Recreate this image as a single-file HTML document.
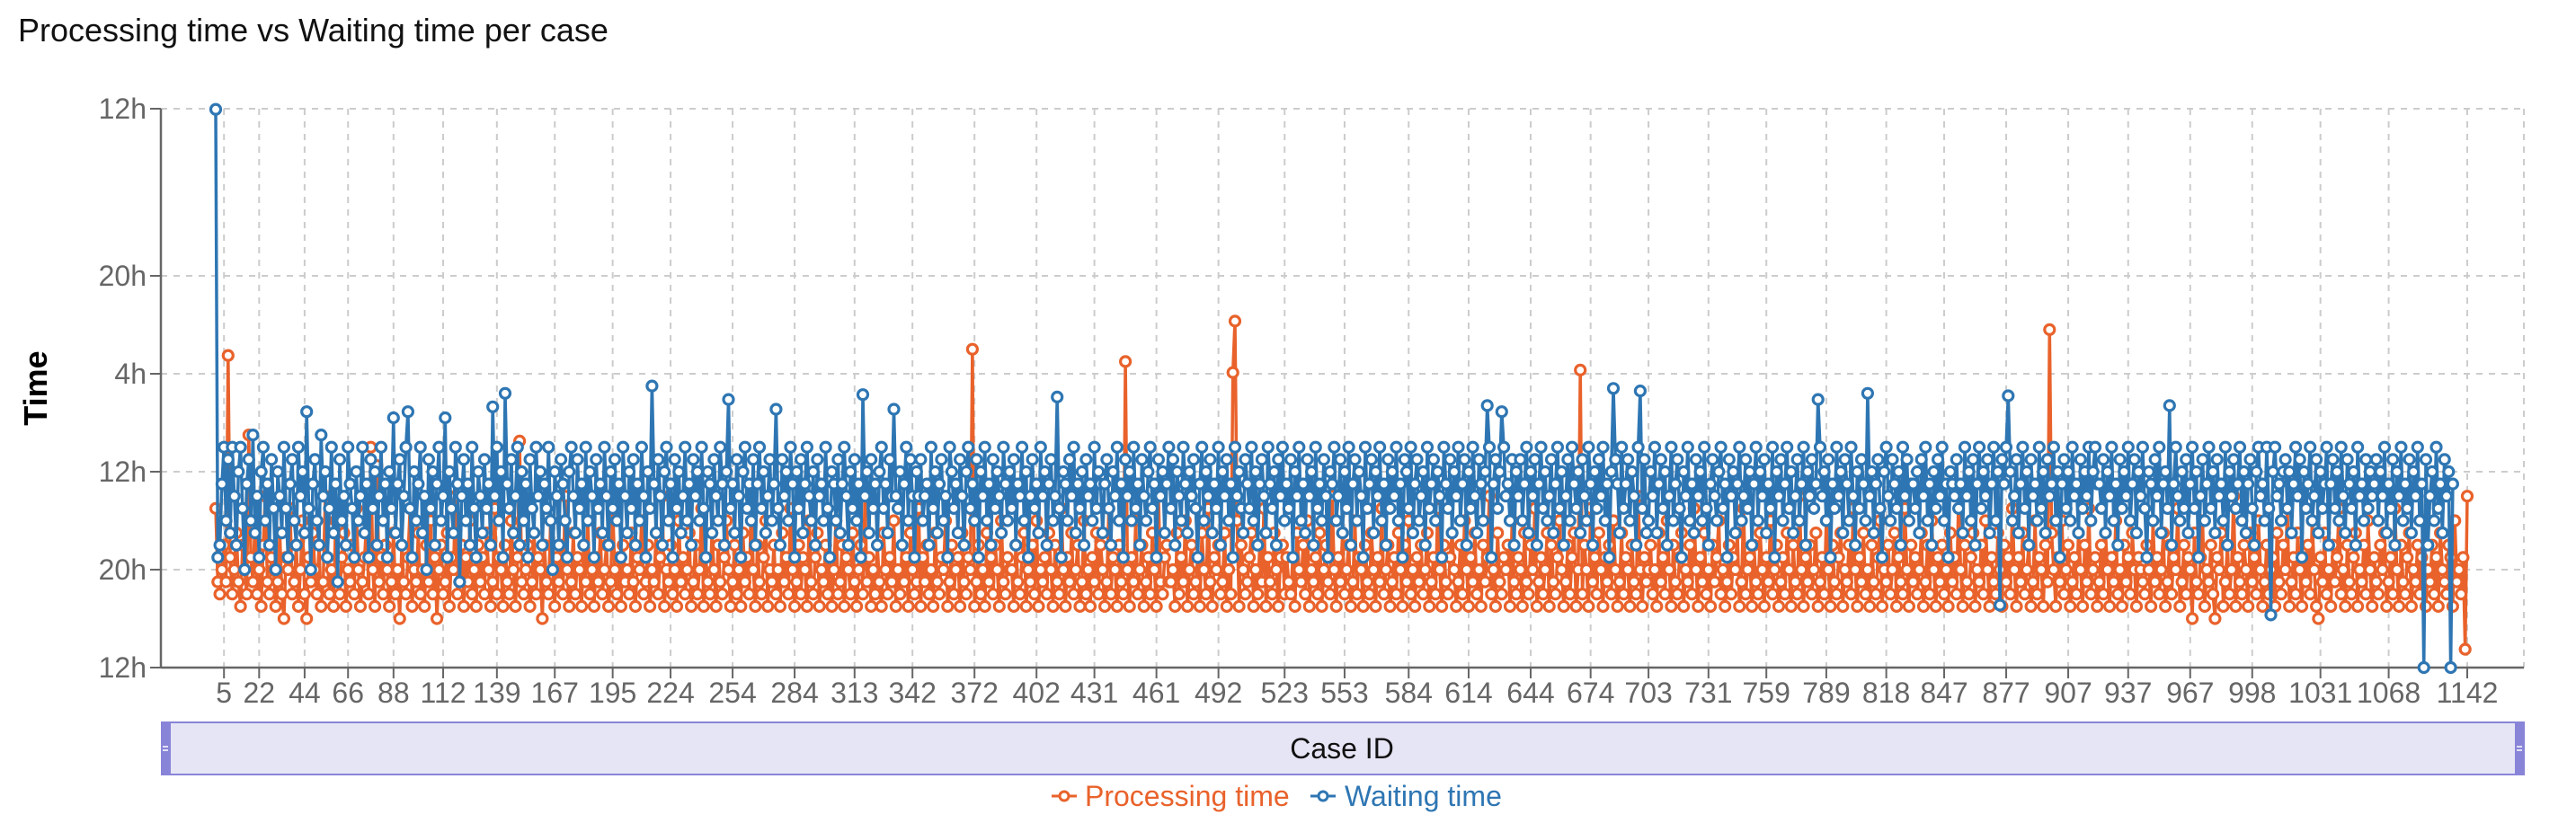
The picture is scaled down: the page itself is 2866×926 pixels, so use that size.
<!DOCTYPE html>
<html><head><meta charset="utf-8"><style>
html,body{margin:0;padding:0;background:#fff;}
svg{display:block;font-family:"Liberation Sans",Arial,sans-serif;}
</style></head><body>
<svg id="chart" width="2866" height="926" viewBox="0 0 2866 926" xmlns="http://www.w3.org/2000/svg">
<text x="20" y="46" font-size="36" fill="#111">Processing time vs Waiting time per case</text>
<g id="grid"></g>
<g id="axes"></g>
<text transform="translate(52,432) rotate(-90)" text-anchor="middle" font-size="36" font-weight="bold" fill="#000">Time</text>
<g id="series"></g>
<g>
<rect x="180" y="804" width="2628" height="58" fill="#e5e5f5" stroke="#8884d8" stroke-width="2"/>
<rect x="179" y="803" width="11" height="60" fill="#8884d8"/>
<rect x="2798" y="803" width="11" height="60" fill="#8884d8"/>
<line x1="181" y1="831" x2="187" y2="831" stroke="#fff" stroke-width="1.5"/><line x1="181" y1="835" x2="187" y2="835" stroke="#fff" stroke-width="1.5"/>
<line x1="2800" y1="831" x2="2806" y2="831" stroke="#fff" stroke-width="1.5"/><line x1="2800" y1="835" x2="2806" y2="835" stroke="#fff" stroke-width="1.5"/>
<text x="1493" y="844" text-anchor="middle" font-size="32" fill="#111">Case ID</text>
</g>
<g>
<g>
<line x1="1170" y1="886" x2="1198" y2="886" stroke="#e9622b" stroke-width="3"/>
<circle cx="1184" cy="886" r="5" fill="#fff" stroke="#e9622b" stroke-width="3"/>
<text x="1207" y="897" font-size="32" fill="#e9622b">Processing time</text>
</g>
<g>
<line x1="1458" y1="886" x2="1486" y2="886" stroke="#2e76b3" stroke-width="3"/>
<circle cx="1472" cy="886" r="5" fill="#fff" stroke="#2e76b3" stroke-width="3"/>
<text x="1496" y="897" font-size="32" fill="#2e76b3">Waiting time</text>
</g>
</g>
</svg>
<script>
const tickIndex=[4,21,43,64,86,110,136,164,192,220,250,280,309,337,367,397,425,455,485,517,546,577,606,636,665,693,722,750,779,808,836,866,896,925,955,985,1018,1051,1089];
const tickLabels=["5","22","44","66","88","112","139","167","195","224","254","284","313","342","372","402","431","461","492","523","553","584","614","644","674","703","731","759","789","818","847","877","907","937","967","998","1031","1068","1142"];
const yTickValues=[12,20,28,36,44,57.65];
const yTickLabels=["12h","20h","12h","4h","20h","12h"];
const processing=[25,19,18,20,22,19,37.5,21,18,20,23,19,17,22,20,18,31,21,19,24,18,20,17,22,26,19,18,21,20,17,19,23,18,16,21,20,25,18,19,22,17,20,24,18,16,21,19,23,20,18,22,17,19,26,21,18,20,17,24,19,18,21,23,17,20,19,22,18,25,20,17,19,21,24,18,30,20,17,28.5,19,21,18,22,20,17,19,23,18,20,16,22,19,18,21,25,17,20,19,23,18,20,17,22,19,24,18,21,16,20,22,18,19,23,17,21,20,26,18,19,22,17,21,19,24,18,20,17,22,19,21,18,23,20,17,19,25,18,21,20,17,22,19,18,24,20,17,21,30.5,19,18,20,22,17,19,23,18,21,20,16,22,19,18,24,20,17,21,19,22,18,26,20,17,19,23,18,21,20,17,22,19,24,18,20,17,21,19,23,18,20,22,17,19,25,20,18,21,17,22,19,20,18,23,19,17,21,20,24,18,19,22,17,20,19,23,18,21,26,17,20,19,22,18,20,17,24,19,21,18,20,23,17,19,22,18,20,25,17,21,19,18,23,20,17,22,19,18,21,24,20,17,19,22,18,20,17,23,19,21,18,26,20,17,22,19,18,21,24,17,20,19,22,18,20,17,23,19,21,18,25,20,17,19,22,18,21,20,17,24,19,18,21,23,17,20,19,22,18,21,17,20,24,18,19,22,17,21,20,18,23,19,17,20,22,18,26,19,21,17,20,18,22,19,17,23,20,18,21,19,24,17,20,18,22,19,21,17,23,20,18,19,25,17,21,19,22,18,20,17,23,19,18,21,20,24,17,19,22,18,20,21,17,23,19,18,21,20,38,17,19,22,18,20,17,23,19,21,18,22,20,17,24,19,18,21,20,20,17,22,19,18,21,23,17,20,19,22,18,24,17,20,19,21,18,23,20,17,22,19,18,25,20,17,21,19,23,18,20,22,17,19,24,18,20,17,21,19,23,18,22,20,17,19,25,18,21,20,17,22,19,18,37,20,17,21,19,24,18,20,22,17,19,21,18,23,20,17,26,19,18,21,22,19,19,20,17,23,18,21,19,24,17,20,22,18,19,21,17,23,20,18,25,19,17,21,20,22,18,19,23,17,20,18,36.1,40.3,24,17,22,20,18,19,21,23,17,20,18,22,19,25,17,21,19,18,23,20,17,21,22,18,21,19,18,21,17,23,20,19,22,18,24,17,20,19,21,18,23,17,20,22,19,18,26,20,17,21,19,23,18,20,22,17,19,24,18,21,20,17,22,19,18,23,20,17,21,19,25,18,20,22,17,19,21,18,23,20,17,22,19,24,18,20,17,21,19,22,18,20,23,17,19,21,18,25,20,17,22,19,18,21,23,20,17,19,22,18,24,20,17,21,19,23,18,20,17,22,19,21,26,18,20,17,23,19,18,21,20,22,17,24,19,18,21,20,17,23,19,18,22,20,25,17,19,21,18,20,23,17,22,19,18,21,24,20,17,19,22,18,21,23,17,20,36.3,18,22,20,17,25,19,21,18,23,20,17,21,19,22,18,24,20,17,19,23,18,21,20,17,22,19,18,26,20,17,21,19,20,22,18,20,17,23,19,21,18,24,20,17,22,19,18,21,23,17,20,19,22,18,25,20,17,21,19,23,18,20,17,22,19,21,24,18,20,17,19,22,18,21,20,23,17,19,25,18,20,21,17,22,19,18,23,20,17,21,19,24,18,20,22,17,19,21,18,23,20,17,22,19,18,26,20,17,21,19,22,18,20,23,17,19,21,18,24,20,17,22,19,18,21,23,17,20,19,22,18,25,20,17,21,19,23,18,20,17,22,19,18,21,24,17,20,19,22,18,20,23,17,21,19,18,25,20,17,22,19,21,18,20,23,17,19,22,18,24,20,17,21,19,22,18,20,17,23,19,21,18,26,20,17,22,19,18,21,23,17,20,19,22,18,24,20,17,21,19,18,23,20,17,22,19,21,18,25,20,17,21,19,23,18,20,22,17,19,24,18,21,20,17,22,19,39.6,23,20,17,21,19,24,18,20,22,17,19,21,18,23,20,17,22,19,25,18,20,21,17,19,22,18,23,20,17,21,19,24,18,20,17,22,19,21,18,23,20,17,21,20,19,18,22,20,17,24,19,21,18,20,23,17,19,22,18,21,20,25,17,19,22,18,21,20,16,23,19,18,21,24,17,20,19,22,18,16,21,20,23,17,19,22,18,20,26,17,21,19,18,22,20,17,23,19,21,18,24,20,17,19,22,18,20,21,17,23,19,18,22,20,25,17,19,21,18,23,20,17,21,19,22,18,24,20,17,16,21,19,23,18,20,17,22,19,21,25,18,20,17,22,19,18,21,23,17,20,19,22,18,24,20,17,21,19,18,22,20,23,17,19,21,18,25,20,17,22,19,18,21,23,17,20,19,22,18,21,24,17,20,19,22,18,21,17,23,20,19,18,22,21,17,24,19,20,18,21,13.5,26];
const waiting=[57.6,21,22,27,30,24,29,23,30,26,22,28,30,25,20,27,29,24,31,23,26,21,28,30,24,27,22,29,25,20,28,26,23,30,25,21,27,29,24,22,30,26,28,23,32.9,25,20,27,29,24,22,31,26,28,21,25,30,23,27,19,29,24,26,22,30,27,25,21,28,24,26,30,23,27,21,29,25,28,22,26,30,24,27,21,28,25,32.4,23,27,29,22,26,30,32.9,25,21,28,24,27,30,23,26,20,29,25,28,22,27,30,24,26,32.4,21,28,25,23,30,27,19,26,29,24,27,22,30,25,21,28,26,23,29,25,27,22,33.3,26,30,24,28,21,34.4,27,25,29,23,26,30,22,28,24,27,21,29,25,23,30,26,28,22,27,25,30,24,20,28,26,22,29,27,24,21,28,30,26,23,29,25,27,22,30,24,28,26,21,29,25,27,23,30,26,22,28,25,29,24,27,21,30,26,23,28,25,29,22,27,24,30,26,21,28,25,35,27,23,29,26,22,28,30,24,27,21,29,25,28,23,26,30,24,27,22,29,26,28,24,30,25,21,28,27,23,29,26,24,30,27,22,28,33.9,25,27,23,29,26,21,28,30,25,27,24,29,22,27,30,25,28,23,26,29,24,27,33.1,25,22,29,26,28,24,30,27,21,28,25,29,23,27,30,26,24,28,22,29,26,27,24,30,25,21,28,27,24,29,23,27,30,26,22,28,25,29,24,27,21,34.3,26,28,23,29,25,27,22,28,30,25,27,23,29,26,33.1,26,25,28,22,27,30,24,29,26,21,28,26,29,24,26,27,22,30,25,28,23,27,29,24,26,21,30,28,25,27,23,29,26,22,28,30,25,27,24,29,21,28,26,30,24,27,22,29,25,28,26,23,30,27,24,28,25,29,22,27,26,30,24,28,21,26,29,25,27,23,30,26,28,22,27,29,24,26,34.1,25,21,28,27,24,29,26,30,23,27,25,28,22,29,26,27,24,30,25,28,27,23,27,29,25,22,28,26,30,24,27,21,29,26,28,24,30,25,27,22,29,26,24,28,30,25,27,21,29,26,28,23,27,30,25,29,22,28,26,24,30,27,23,28,26,29,25,21,27,30,24,28,26,29,23,27,25,30,22,28,26,29,24,27,21,30,26,28,25,23,29,27,25,30,24,28,22,27,29,26,23,30,27,25,28,22,29,26,30,24,27,25,29,21,28,26,30,24,27,23,29,26,28,22,30,25,27,24,29,26,21,28,27,30,24,26,29,23,28,25,30,22,27,29,24,28,26,21,30,25,27,29,23,28,26,30,24,27,22,29,25,28,26,30,24,27,21,29,28,25,30,23,27,29,24,26,28,22,30,25,27,29,24,28,26,21,30,27,25,29,23,28,26,30,24,27,29,22,28,25,30,26,23,29,27,24,28,33.4,30,21,27,29,25,28,32.9,30,26,27,24,29,22,28,26,29,24,27,30,23,28,26,29,22,27,30,25,28,24,26,29,23,27,30,25,28,22,26,29,24,30,27,25,28,23,29,26,24,30,27,22,28,25,29,26,30,24,27,21,28,34.8,29,27,23,30,25,27,29,24,28,26,22,30,34.6,25,29,23,24,28,26,30,23,27,29,25,28,22,26,30,24,27,29,25,21,28,26,30,24,27,23,29,26,28,24,30,25,22,27,29,26,24,28,30,25,27,21,29,26,28,23,27,30,24,26,29,25,28,22,27,30,24,28,26,29,23,27,25,30,21,28,26,29,24,27,30,25,28,23,26,29,24,27,30,22,28,26,29,25,27,33.9,30,26,28,24,29,21,27,25,30,26,28,23,29,27,24,30,26,22,28,25,29,27,24,34.4,26,28,23,27,29,25,21,28,30,26,24,29,27,25,28,22,30,26,29,24,27,27,25,28,23,29,26,30,24,27,22,28,25,29,26,30,24,27,21,28,27,26,29,25,27,23,30,26,28,24,29,22,27,30,25,28,26,29,23,27,30,24,28,17.1,29,27,30,34.2,28,24,26,29,23,27,30,25,28,22,29,26,27,24,30,25,28,23,29,26,27,30,24,28,21,27,29,25,28,24,30,26,27,23,29,25,28,26,30,24,28,30,27,27,25,29,23,28,26,30,24,27,22,29,25,28,26,30,24,27,29,23,28,26,30,25,21,28,27,24,29,26,30,23,27,28,25,33.4,22,27,30,26,24,28,25,29,23,27,30,25,28,21,26,29,24,27,30,25,28,23,29,26,27,24,30,22,28,26,29,25,27,30,24,28,23,27,29,25,22,28,30,26,27,24,30,25,16.3,28,30,26,27,24,28,29,25,28,23,27,30,26,29,21,28,25,27,30,24,26,29,23,28,25,27,30,22,27,29,25,28,24,30,26,23,29,27,25,28,22,30,26,27,24,29,25,28,26,27,29,24,28,26,30,23,27,25,29,22,28,26,30,24,27,25,29,23,28,26,30,24,27,12,29,22,26,28,24,30,25,27,23,29,26,28,12,27];

const NS="http://www.w3.org/2000/svg";
const X0=240,X1=2745,AX=179,AXR=2808,YT=121,YB=743;
const nCat=Math.max(processing.length,waiting.length);
const yMin=yTickValues[0],yMax=yTickValues[yTickValues.length-1];
function xScale(i){return X0+i*(X1-X0)/(nCat-1);}
function yScale(v){return YB-(v-yMin)/(yMax-yMin)*(YB-YT);}
function mk(tag,attrs,parent){const e=document.createElementNS(NS,tag);for(const k in attrs)e.setAttribute(k,attrs[k]);parent.appendChild(e);return e;}
const grid=document.getElementById('grid'),axes=document.getElementById('axes'),series=document.getElementById('series');
yTickValues.forEach((v,i)=>{
  const y=yScale(v);
  if(i>0){const gl=mk('line',{x1:AX,x2:AXR,y1:y,y2:y,stroke:'#ccc','stroke-width':2,'stroke-dasharray':'7 7'},grid);
  
  }
  mk('line',{x1:AX-12,x2:AX,y1:y,y2:y,stroke:'#666','stroke-width':2},axes);
  const t=mk('text',{x:AX-16,y:y+11,'text-anchor':'end','font-size':32,fill:'#666'},axes);
  t.textContent=yTickLabels[i];
  
  
});
tickIndex.forEach((idx,i)=>{
  const x=xScale(idx);
  const gl=mk('line',{x1:x,x2:x,y1:YT,y2:YB,stroke:'#ccc','stroke-width':2,'stroke-dasharray':'7 7'},grid);
  
  
  mk('line',{x1:x,x2:x,y1:YB,y2:YB+12,stroke:'#666','stroke-width':2},axes);
  const t=mk('text',{x:x,y:YB+39,'text-anchor':'middle','font-size':32,fill:'#666'},axes);
  t.textContent=tickLabels[i];
  
  
});
mk('line',{x1:AXR,x2:AXR,y1:YT,y2:YB,stroke:'#ccc','stroke-width':2,'stroke-dasharray':'7 7'},grid);
mk('line',{x1:AX,x2:AX,y1:YT,y2:YB+1,stroke:'#666','stroke-width':2.5},axes);
mk('line',{x1:AX,x2:AXR,y1:YB,y2:YB,stroke:'#666','stroke-width':2.5},axes);
function drawSeries(vals,color,name){
  const g=mk('g',{},series);
  
  
  const pts=vals.map((v,i)=>xScale(i).toFixed(1)+','+yScale(v).toFixed(1)).join(' ');
  const pl=mk('polyline',{points:pts,fill:'none',stroke:color,'stroke-width':3.5,'stroke-linejoin':'round'},g);
  
  
  vals.forEach((v,i)=>{
    const c=mk('circle',{cx:xScale(i).toFixed(1),cy:yScale(v).toFixed(1),r:5.5,fill:'#fff',stroke:color,'stroke-width':3.2},g);
    
    
  });
}
drawSeries(processing,'#e9622b','processing-time');
drawSeries(waiting,'#2e76b3','waiting-time');
</script>
</body></html>
